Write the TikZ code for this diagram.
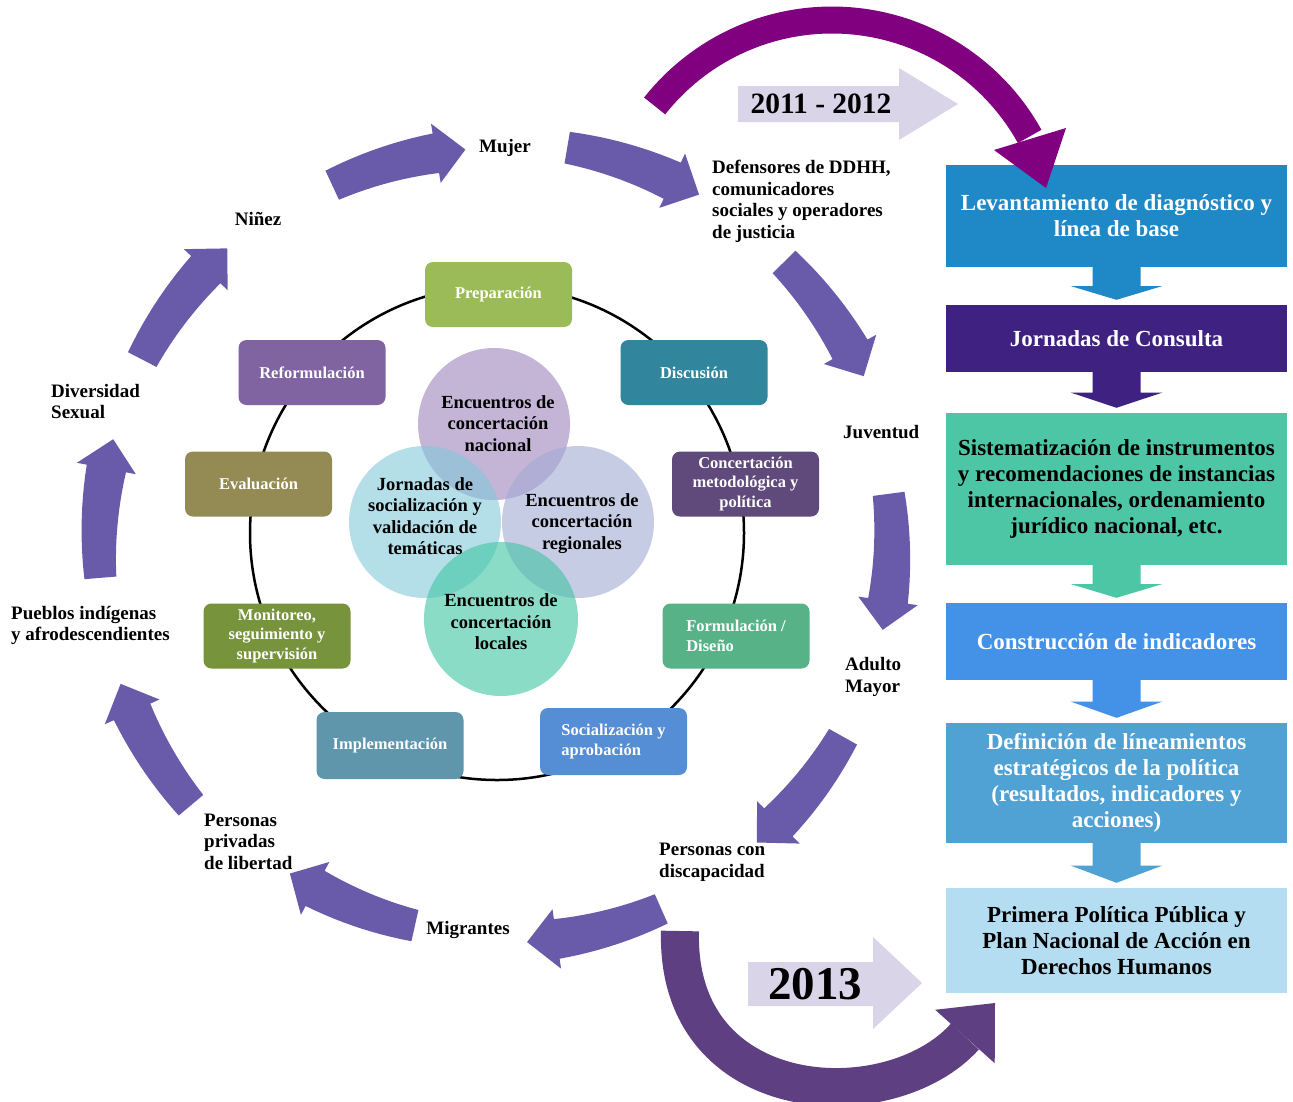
\documentclass[tikz,border=0pt]{standalone}
\usepackage{fontspec}
\setmainfont{Liberation Serif}
\usetikzlibrary{arrows.meta,calc}
\definecolor{ringcol}{HTML}{6A5BAA}
\definecolor{topcol}{HTML}{80007F}
\definecolor{botcol}{HTML}{5E4082}
\definecolor{lightarr}{HTML}{D9D4E8}
\definecolor{cPrep}{HTML}{9BBB59}
\definecolor{cDisc}{HTML}{31859C}
\definecolor{cReform}{HTML}{8064A2}
\definecolor{cEval}{HTML}{948A54}
\definecolor{cConc}{HTML}{604A7B}
\definecolor{cMoni}{HTML}{77933C}
\definecolor{cForm}{HTML}{58B287}
\definecolor{cImpl}{HTML}{5F96AC}
\definecolor{cSoc}{HTML}{558ED5}
\definecolor{vNac}{HTML}{9E84BB}
\definecolor{vJor}{HTML}{82C8D9}
\definecolor{vReg}{HTML}{A3AAD5}
\definecolor{vLoc}{HTML}{3FC5A3}
\definecolor{rA}{HTML}{1F88C6}
\definecolor{rB}{HTML}{3E2181}
\definecolor{rC}{HTML}{4DC6A6}
\definecolor{rD}{HTML}{4392E7}
\definecolor{rE}{HTML}{50A2D4}
\definecolor{rF}{HTML}{B5DDF1}
\newcommand\rdarrow[3]{%
  \coordinate (mm) at ($(#1.south)!0.5!(#2.north)$);
  \fill[#3] ([xshift=-24pt]#1.south) -- ([xshift=24pt]#1.south) -- ([xshift=24pt]mm)
    -- ([xshift=46pt]mm) -- ([yshift=5pt]#2.north) -- ([xshift=-46pt]mm)
    -- ([xshift=-24pt]mm) -- cycle;}
\begin{document}
\begin{tikzpicture}[x=1pt,y=-1pt,
  lbl/.style={font=\bfseries\fontsize{19}{21.5}\selectfont, align=left, inner sep=0pt, text=black},
  stepbox/.style={rounded corners=8pt, minimum width=147pt, minimum height=65pt, text=white,
     font=\bfseries\fontsize{16.5}{19.5}\selectfont, align=center, inner sep=2pt},
  venn/.style={circle, minimum size=152pt, inner sep=0pt, fill opacity=0.6},
  venntxt/.style={font=\bfseries\fontsize{18.5}{21.5}\selectfont, align=center, inner sep=0pt},
  rbox/.style={minimum width=341pt, inner sep=0pt, font=\bfseries\fontsize{23}{26}\selectfont, align=center},
  ringarrow/.style={fill=ringcol},
]
\useasboundingbox (0,0) rectangle (1293,1101);
\fill[white] (0,0) rectangle (1293,1101);

% year arrows
\fill[lightarr] (738,86) -- (899,86) -- (899,68) -- (958,104) -- (899,140) -- (899,122) -- (738,122) -- cycle;
\node[font=\bfseries\fontsize{29.5}{32}\selectfont, inner sep=0pt] (y1) at (821,104) {2011 - 2012};
\fill[lightarr] (748,962) -- (873,962) -- (873,937) -- (922,983) -- (873,1029) -- (873,1006) -- (748,1006) -- cycle;
\node[font=\bfseries\fontsize{47}{50}\selectfont, inner sep=0pt] (y2) at (815,984) {2013};

% bottom arc
\draw[botcol, line width=38pt, -{Triangle[length=45pt,width=80pt,line width=0pt]}]
  (680,931) .. controls (675,1110) and (890,1120) .. (995,1003);

% outer ring arrows
\begin{scope}[shift={(500,545)}]
\foreach \a/\r in {-115/397,-80.4/403,-44.9/401,-7.5/392,29.2/393,66.1/398,102.6/390,139.9/404,175.3/401,207.4/403}{
  \pgfmathsetmacro\aH{\a+15.7}
  \pgfmathsetmacro\aB{\a+20}
  \fill[ringarrow] plot[domain=\a:\aH,samples=12] (\x:{\r+16+4*(\x-\a)/15.7})
     -- (\aH:\r+30) -- (\aB:\r) -- (\aH:\r-30)
     -- plot[domain=\aH:\a,samples=12] (\x:{\r-16-4*(\x-\a)/15.7}) -- cycle;
}
\end{scope}

% ring labels
\node[lbl] (lMujer) at (505,148) {Mujer};
\node[lbl] (lNinez) at (258,219) {Niñez};
\node[lbl, anchor=west] (lDef) at (712,201.5) {Defensores de DDHH,\\comunicadores\\sociales y operadores\\de justicia};
\node[lbl, anchor=west] (lJuv) at (843,432) {Juventud};
\node[lbl, anchor=west] (lAdu) at (845,677) {Adulto\\Mayor};
\node[lbl, anchor=west] (lDis) at (659,862.5) {Personas con\\discapacidad};
\node[lbl] (lMig) at (468,930) {Migrantes};
\node[lbl, anchor=west] (lPri) at (204,841.5) {Personas\\privadas\\de libertad};
\node[lbl, anchor=west] (lPue) at (11,625.5) {Pueblos indígenas\\y afrodescendientes};
\node[lbl, anchor=west] (lDiv) at (51,401.5) {Diversidad\\Sexual};

% inner cycle
\draw[line width=2.5pt] (497,533) circle[radius=247];
\node[stepbox, fill=cPrep] (prep) at (498.5,294.5) {Preparación};
\node[stepbox, fill=cDisc] (disc) at (694,372.5) {Discusión};
\node[stepbox, fill=cConc] (conc) at (745.5,484) {Concertación\\metodológica y\\política};
\node[stepbox, fill=cForm, align=left] (form) at (736,636) {Formulación /\\Diseño};
\node[stepbox, fill=cSoc, align=left, minimum height=67pt] (soc) at (613.5,741.5) {Socialización y\\aprobación};
\node[stepbox, fill=cImpl, minimum height=67pt] (impl) at (390,745.5) {Implementación};
\node[stepbox, fill=cMoni] (moni) at (277,636) {Monitoreo,\\seguimiento y\\supervisión};
\node[stepbox, fill=cEval] (eval) at (258.5,484) {Evaluación};
\node[stepbox, fill=cReform] (reform) at (312,372.5) {Reformulación};

% venn circles
\node[venn, fill=vNac] (cNac) at (494,424) {};
\node[venn, fill=vJor] (cJor) at (425,522) {};
\node[venn, fill=vReg] (cReg) at (578,522) {};
\node[venn, fill=vLoc, minimum size=154pt] (cLoc) at (501,619) {};
\node[venntxt] (tNac) at (498,423.5) {Encuentros de\\concertación\\nacional};
\node[venntxt] (tJor) at (425,516) {Jornadas de\\socialización y\\validación de\\temáticas};
\node[venntxt] (tReg) at (582,523.5) {Encuentros de\\concertación\\regionales};
\node[venntxt] (tLoc) at (501,622) {Encuentros de\\concertación\\locales};

% right column
\node[rbox, fill=rA, text=white, minimum height=102pt] (b1) at (1116.5,216) {Levantamiento de diagnóstico y\\línea de base};
\node[rbox, fill=rB, text=white, minimum height=67pt] (b2) at (1116.5,338.5) {Jornadas de Consulta};
\node[rbox, fill=rC, text=black, minimum height=152pt] (b3) at (1116.5,489) {Sistematización de instrumentos\\y recomendaciones de instancias\\internacionales, ordenamiento\\jurídico nacional, etc.};
\node[rbox, fill=rD, text=white, minimum height=77pt] (b4) at (1116.5,641.5) {Construcción de indicadores};
\node[rbox, fill=rE, text=white, minimum height=120pt] (b5) at (1116.5,783) {Definición de líneamientos\\estratégicos de la política\\(resultados, indicadores y\\acciones)};
\node[rbox, fill=rF, text=black, minimum height=105pt] (b6) at (1116.5,940.5) {Primera Política Pública y\\Plan Nacional de Acción en\\Derechos Humanos};
\rdarrow{b1}{b2}{rA}
\rdarrow{b2}{b3}{rB}
\rdarrow{b3}{b4}{rC}
\rdarrow{b4}{b5}{rD}
\rdarrow{b5}{b6}{rE}

% top arc (drawn over the first box)
\draw[topcol, line width=27pt] (832,246) ++(-141.7:226) arc[start angle=-141.7, end angle=-29, radius=226];
\fill[topcol] (1066,128) -- (1046,188) -- (994,150) -- cycle;
\end{tikzpicture}
\end{document}
